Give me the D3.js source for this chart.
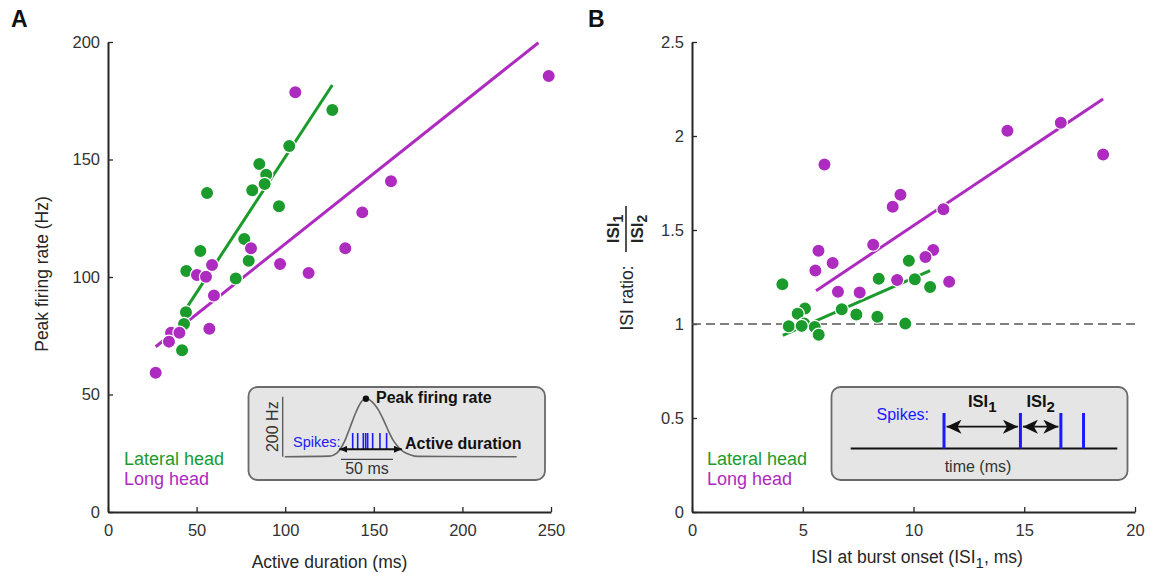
<!DOCTYPE html>
<html>
<head>
<meta charset="utf-8">
<script src="https://cdn.jsdelivr.net/npm/d3@7"></script>
<style>
  body { margin: 0; background: #fff; }
  svg { font-family: "Liberation Sans", Arial, sans-serif; }
  .axis path { stroke: #262626; stroke-width: 2; }
  .axis line { stroke: #262626; stroke-width: 1.3; }
  .axis text { fill: #333; }
  .axis-title { fill: #262626; }
</style>
</head>
<body>
<svg id="chart" width="1153" height="573"></svg>
<script>
// ---- data ----
// Panel A: active duration (ms) vs peak firing rate (Hz)
const lateralDurA  = [126.6, 102.3, 85.4, 89.3, 88.4, 81.4, 55.9, 96.5, 76.9, 79.4, 52.1, 44.2, 72.1, 44.0, 42.9, 41.8];
const lateralRateA = [171.1, 155.7, 148.1, 143.5, 139.6, 136.9, 135.7, 130.1, 116.2, 106.9, 111.1, 102.6, 99.4, 85.0, 80.0, 68.8];
const longDurA  = [105.7, 248.7, 159.7, 143.5, 133.9, 80.7, 97.1, 113.2, 58.7, 50.2, 55.3, 59.8, 57.2, 35.6, 40.3, 34.4, 26.9];
const longRateA = [178.6, 185.5, 140.7, 127.5, 112.2, 112.2, 105.5, 101.7, 105.1, 100.9, 100.1, 92.1, 78.0, 76.3, 76.3, 72.5, 59.3];
const lateralFitDurA  = [44.8, 126.6];
const lateralFitRateA = [87.4, 181.7];
const longFitDurA  = [26.9, 242.9];
const longFitRateA = [70.3, 199.7];

// Panel B: ISI at burst onset (ms) vs ISI1/ISI2
const lateralIsiB   = [4.08, 9.79, 8.43, 10.06, 10.75, 6.76, 7.42, 8.37, 9.63, 5.10, 4.77, 4.37, 5.07, 5.54, 5.72, 4.95];
const lateralRatioB = [1.211, 1.337, 1.241, 1.238, 1.197, 1.078, 1.050, 1.039, 1.002, 1.083, 1.055, 0.988, 1.002, 0.984, 0.943, 0.99];
const longIsiB   = [16.65, 14.24, 18.56, 5.98, 9.41, 9.06, 11.35, 8.18, 5.71, 6.35, 5.57, 10.89, 10.54, 9.26, 11.61, 6.59, 7.57];
const longRatioB = [2.071, 2.028, 1.901, 1.848, 1.688, 1.624, 1.610, 1.422, 1.390, 1.324, 1.284, 1.394, 1.356, 1.234, 1.225, 1.172, 1.167];
const lateralFitIsiB   = [4.10, 10.75];
const lateralFitRatioB = [0.940, 1.284];
const longFitIsiB   = [5.60, 18.56];
const longFitRatioB = [1.177, 2.197];
const unityRatio = 1;

// ticks
const ticksAx = [0, 50, 100, 150, 200, 250];
const ticksAy = [0, 50, 100, 150, 200];
const ticksBx = [0, 5, 10, 15, 20];
const ticksBy = [0, 0.5, 1, 1.5, 2, 2.5];

// inset schematics
const insetCurveMs = [2, 45, 52, 60, 65, 70, 75, 80, 86, 92, 97, 102, 106, 111, 116, 123, 130, 225];
const insetCurveHz = [0, 2, 12, 55, 100, 145, 180, 195, 183, 156, 122, 83, 56, 33, 17, 6, 1, 0];
const insetSpikesMs = [67.3, 72.1, 77.5, 79.8, 81.7, 86.5, 93.5, 99.9];
const insetActiveMs = [54.5, 114.6];
const insetScaleBarMs = [56, 106];
const isiSpikesMs = [21, 38.2, 47.3, 52.4];

const GREEN = '#1b9b2b';
const PURPLE = '#ad2bbf';

const svg = d3.select('#chart');

// markers for the inset arrows
const defs = svg.append('defs');
defs.append('marker')
    .attr('id', 'arrow-small')
    .attr('viewBox', '0 0 8 7')
    .attr('markerWidth', 8).attr('markerHeight', 7)
    .attr('refX', 8).attr('refY', 3.5)
    .attr('markerUnits', 'userSpaceOnUse')
    .attr('orient', 'auto-start-reverse')
  .append('path')
    .attr('d', 'M0,0 L8,3.5 L0,7 Z')
    .attr('fill', '#111');
defs.append('marker')
    .attr('id', 'arrow-big')
    .attr('viewBox', '0 0 15 14')
    .attr('markerWidth', 15).attr('markerHeight', 14)
    .attr('refX', 15).attr('refY', 7)
    .attr('markerUnits', 'userSpaceOnUse')
    .attr('orient', 'auto-start-reverse')
  .append('path')
    .attr('d', 'M0,0 L15,7 L0,14 L4,7 Z')
    .attr('fill', '#111');

class ScatterPanel {
    constructor(_config, _data) {
        this.config = _config;
        this.data = _data;
        this.initVis();
    }

    initVis() {
        let vis = this;
        let c = vis.config;

        vis.xScale = d3.scaleLinear().domain(c.xDomain).range(c.xRange);
        vis.yScale = d3.scaleLinear().domain(c.yDomain).range(c.yRange);

        vis.g = svg.append('g');

        vis.xAxis = d3.axisBottom(vis.xScale)
            .tickValues(c.xTicks)
            .tickSizeInner(-5).tickSizeOuter(0)
            .tickPadding(12)
            .tickFormat(d3.format('~g'));
        vis.yAxis = d3.axisLeft(vis.yScale)
            .tickValues(c.yTicks)
            .tickSizeInner(-5).tickSizeOuter(0)
            .tickPadding(8)
            .tickFormat(d3.format('~g'));

        vis.xAxisGroup = vis.g.append('g')
            .attr('class', 'axis x-axis')
            .attr('transform', `translate(0,${c.yRange[0]})`)
            .call(vis.xAxis);
        vis.yAxisGroup = vis.g.append('g')
            .attr('class', 'axis y-axis')
            .attr('transform', `translate(${c.xRange[0]},0)`)
            .call(vis.yAxis);

        vis.g.selectAll('.axis')
            .attr('font-family', '"Liberation Sans", Arial, sans-serif')
            .attr('font-size', 16.5);
        vis.xAxisGroup.selectAll('text').attr('dy', null).attr('y', 24);

        // panel letter
        vis.g.append('text')
            .attr('x', c.letterX).attr('y', 27)
            .attr('font-size', 23).attr('font-weight', 'bold')
            .attr('fill', '#111')
            .text(c.letter);
    }

    renderVis() {
        let vis = this;
        let c = vis.config;

        const line = d3.line()
            .x(d => vis.xScale(d[0]))
            .y(d => vis.yScale(d[1]));

        // fit lines
        vis.data.forEach(s => {
            vis.g.append('path')
                .datum(d3.zip(s.fitX, s.fitY))
                .attr('d', line)
                .attr('fill', 'none')
                .attr('stroke', s.color)
                .attr('stroke-width', 3);
        });

        // points
        vis.data.forEach(s => {
            vis.g.selectAll(null)
                .data(d3.zip(s.x, s.y))
                .join('circle')
                .attr('cx', d => vis.xScale(d[0]))
                .attr('cy', d => vis.yScale(d[1]))
                .attr('r', 6.6)
                .attr('fill', s.color)
                .attr('stroke', '#fff')
                .attr('stroke-width', 1.2);
        });

        // legend
        vis.data.forEach((s, i) => {
            vis.g.append('text')
                .attr('x', c.legendX)
                .attr('y', 465 + i * 20)
                .attr('font-size', 18)
                .attr('fill', s.color)
                .text(s.name);
        });
    }
}

// ---- Panel A ----
const panelA = new ScatterPanel({
    letter: 'A', letterX: 11,
    xDomain: [0, 250], xRange: [108, 551],
    yDomain: [0, 200], yRange: [512, 42],
    xTicks: ticksAx, yTicks: ticksAy,
    legendX: 124
}, [
    { name: 'Lateral head', color: GREEN, x: lateralDurA, y: lateralRateA, fitX: lateralFitDurA, fitY: lateralFitRateA },
    { name: 'Long head', color: PURPLE, x: longDurA, y: longRateA, fitX: longFitDurA, fitY: longFitRateA }
]);
panelA.renderVis();

panelA.g.append('text')
    .attr('class', 'axis-title')
    .attr('text-anchor', 'middle')
    .attr('transform', 'translate(48,274) rotate(-90)')
    .attr('font-size', 17.5)
    .text('Peak firing rate (Hz)');
panelA.g.append('text')
    .attr('class', 'axis-title')
    .attr('text-anchor', 'middle')
    .attr('x', 329.5).attr('y', 567.5)
    .attr('font-size', 17.5)
    .text('Active duration (ms)');

// ---- Panel B ----
const panelB = new ScatterPanel({
    letter: 'B', letterX: 588,
    xDomain: [0, 20], xRange: [692, 1135],
    yDomain: [0, 2.5], yRange: [512, 42],
    xTicks: ticksBx, yTicks: ticksBy,
    legendX: 707
}, [
    { name: 'Lateral head', color: GREEN, x: lateralIsiB, y: lateralRatioB, fitX: lateralFitIsiB, fitY: lateralFitRatioB },
    { name: 'Long head', color: PURPLE, x: longIsiB, y: longRatioB, fitX: longFitIsiB, fitY: longFitRatioB }
]);

// reference line at ratio 1, under the marks
panelB.g.append('line')
    .attr('x1', panelB.xScale(0)).attr('x2', panelB.xScale(20))
    .attr('y1', panelB.yScale(unityRatio)).attr('y2', panelB.yScale(unityRatio))
    .attr('stroke', '#555')
    .attr('stroke-width', 1.4)
    .attr('stroke-dasharray', '9,5');
panelB.renderVis();

const xTitleB = panelB.g.append('text')
    .attr('class', 'axis-title')
    .attr('text-anchor', 'middle')
    .attr('x', 917).attr('y', 563)
    .attr('font-size', 17.5);
xTitleB.append('tspan').text('ISI at burst onset (ISI');
xTitleB.append('tspan').attr('dy', 5).attr('font-size', 15).text('1');
xTitleB.append('tspan').attr('dy', -5).text(', ms)');

// rotated y title with fraction
const yTitleB = panelB.g.append('g').attr('transform', 'rotate(-90)').attr('fill', '#262626');
yTitleB.append('text')
    .attr('text-anchor', 'middle')
    .attr('x', -298).attr('y', 633)
    .attr('font-size', 17.5)
    .text('ISI ratio:');
const num = yTitleB.append('text')
    .attr('text-anchor', 'middle')
    .attr('x', -229).attr('y', 619)
    .attr('font-size', 17).attr('font-weight', 'bold');
num.append('tspan').text('ISI');
num.append('tspan').attr('dy', 4).attr('font-size', 14).text('1');
yTitleB.append('line')
    .attr('x1', -252).attr('x2', -206)
    .attr('y1', 626).attr('y2', 626)
    .attr('stroke', '#262626').attr('stroke-width', 1.6);
const den = yTitleB.append('text')
    .attr('text-anchor', 'middle')
    .attr('x', -229).attr('y', 643)
    .attr('font-size', 17).attr('font-weight', 'bold');
den.append('tspan').text('ISI');
den.append('tspan').attr('dy', 4).attr('font-size', 14).text('2');

// ---- Inset A: firing rate schematic ----
const insetA = svg.append('g');
insetA.append('rect')
    .attr('x', 248.5).attr('y', 387).attr('width', 296.5).attr('height', 93)
    .attr('rx', 9)
    .attr('fill', '#e5e5e5').attr('stroke', '#6a6a6a').attr('stroke-width', 1.8);

const insetX = d3.scaleLinear().domain([0, 50]).range([282.7, 334.7]);
const insetY = d3.scaleLinear().domain([0, 200]).range([456.7, 396.7]);

insetA.append('line')
    .attr('x1', insetX(0)).attr('x2', insetX(0))
    .attr('y1', insetY(0)).attr('y2', insetY(200))
    .attr('stroke', '#555').attr('stroke-width', 1.3);
insetA.append('text')
    .attr('text-anchor', 'middle')
    .attr('transform', `translate(278,${insetY(100)}) rotate(-90)`)
    .attr('font-size', 16).attr('fill', '#333')
    .text('200 Hz');

insetA.append('path')
    .datum(d3.zip(insetCurveMs, insetCurveHz))
    .attr('d', d3.line().x(d => insetX(d[0])).y(d => insetY(d[1])).curve(d3.curveMonotoneX))
    .attr('fill', 'none').attr('stroke', '#666').attr('stroke-width', 1.6);

insetA.selectAll(null)
    .data(insetSpikesMs)
    .join('line')
    .attr('x1', d => insetX(d)).attr('x2', d => insetX(d))
    .attr('y1', insetY(79)).attr('y2', insetY(25))
    .attr('stroke', '#1a1aff').attr('stroke-width', 1.6);

insetA.append('line')
    .attr('x1', insetX(insetActiveMs[0])).attr('x2', insetX(insetActiveMs[1]))
    .attr('y1', insetY(25)).attr('y2', insetY(25))
    .attr('stroke', '#111').attr('stroke-width', 2)
    .attr('marker-start', 'url(#arrow-small)')
    .attr('marker-end', 'url(#arrow-small)');

insetA.append('circle')
    .attr('cx', insetX(80)).attr('cy', insetY(193))
    .attr('r', 3.2).attr('fill', '#111');

insetA.append('line')
    .attr('x1', insetX(insetScaleBarMs[0])).attr('x2', insetX(insetScaleBarMs[1]))
    .attr('y1', 459.3).attr('y2', 459.3)
    .attr('stroke', '#444').attr('stroke-width', 1.3);
insetA.append('text')
    .attr('text-anchor', 'middle')
    .attr('x', insetX((insetScaleBarMs[0] + insetScaleBarMs[1]) / 2)).attr('y', 473.5)
    .attr('font-size', 16).attr('fill', '#333')
    .text('50 ms');

insetA.append('text')
    .attr('x', 376).attr('y', 403)
    .attr('font-size', 16).attr('font-weight', 'bold').attr('fill', '#111')
    .text('Peak firing rate');
insetA.append('text')
    .attr('x', 405).attr('y', 448.5)
    .attr('font-size', 16).attr('font-weight', 'bold').attr('fill', '#111')
    .text('Active duration');
insetA.append('text')
    .attr('x', 293).attr('y', 446.5)
    .attr('font-size', 14.5).attr('fill', '#1a1aff')
    .text('Spikes:');

// ---- Inset B: ISI schematic ----
const insetB = svg.append('g');
insetB.append('rect')
    .attr('x', 831.5).attr('y', 387).attr('width', 296).attr('height', 93)
    .attr('rx', 9)
    .attr('fill', '#e5e5e5').attr('stroke', '#6a6a6a').attr('stroke-width', 1.8);

const isiX = d3.scaleLinear().domain([0, 60]).range([850.7, 1117.3]);

insetB.append('line')
    .attr('x1', isiX(0)).attr('x2', isiX(60))
    .attr('y1', 448.5).attr('y2', 448.5)
    .attr('stroke', '#111').attr('stroke-width', 1.8);

insetB.selectAll(null)
    .data(isiSpikesMs)
    .join('line')
    .attr('x1', d => isiX(d)).attr('x2', d => isiX(d))
    .attr('y1', 413).attr('y2', 448.5)
    .attr('stroke', '#1a1aff').attr('stroke-width', 3);

[[0, 1], [1, 2]].forEach(([a, b]) => {
    insetB.append('line')
        .attr('x1', isiX(isiSpikesMs[a]) + 2.5).attr('x2', isiX(isiSpikesMs[b]) - 2.5)
        .attr('y1', 426.7).attr('y2', 426.7)
        .attr('stroke', '#111').attr('stroke-width', 1.8)
        .attr('marker-start', 'url(#arrow-big)')
        .attr('marker-end', 'url(#arrow-big)');
});

[['1', 0, 1], ['2', 1, 2]].forEach(([sub, a, b]) => {
    const t = insetB.append('text')
        .attr('text-anchor', 'middle')
        .attr('x', (isiX(isiSpikesMs[a]) + isiX(isiSpikesMs[b])) / 2)
        .attr('y', 406.5)
        .attr('font-size', 16.5).attr('font-weight', 'bold').attr('fill', '#111');
    t.append('tspan').text('ISI');
    t.append('tspan').attr('dy', 5).attr('font-size', 15).text(sub);
});

insetB.append('text')
    .attr('x', 876.5).attr('y', 420)
    .attr('font-size', 16).attr('fill', '#1a1aff')
    .text('Spikes:');
insetB.append('text')
    .attr('text-anchor', 'middle')
    .attr('x', 978).attr('y', 471.5)
    .attr('font-size', 16).attr('fill', '#333')
    .text('time (ms)');
</script>
</body>
</html>
